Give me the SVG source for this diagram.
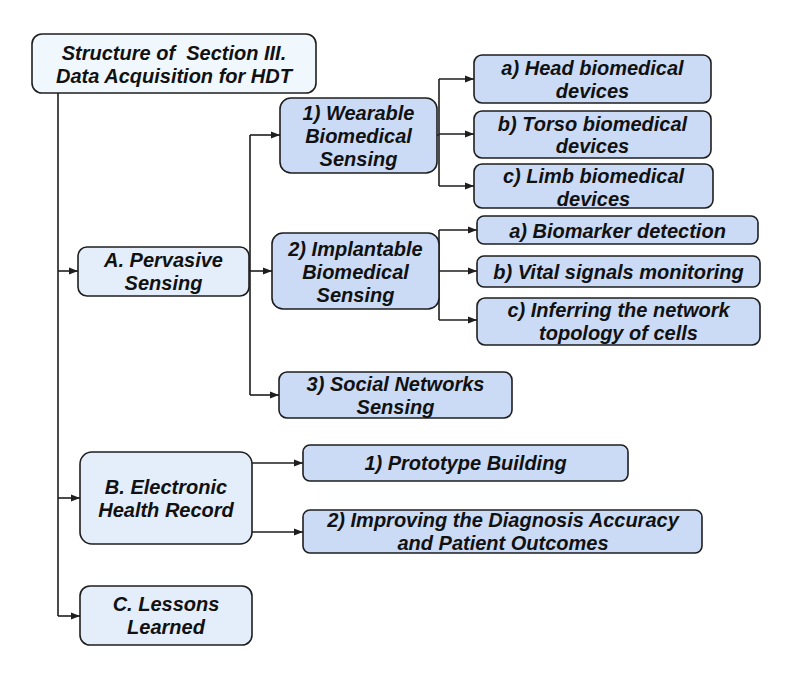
<svg xmlns="http://www.w3.org/2000/svg" width="800" height="673" viewBox="0 0 800 673">
<style>
  .box { stroke: #1e1e1e; stroke-width: 1.6; }
  .root { fill: #f0f8fd; }
  .l2 { fill: #e4eefb; }
  .l3 { fill: #cbdbf5; }
  text { font-family: "Liberation Sans", Arial, sans-serif; font-weight: bold; font-style: italic; font-size: 20px; fill: #111; text-anchor: middle; }
  .conn { fill: none; stroke: #1e1e1e; stroke-width: 1.6; }
</style>
<defs>
  <marker id="arr" markerUnits="userSpaceOnUse" markerWidth="10" markerHeight="8" refX="9" refY="4" orient="auto">
    <path d="M0,0.5 L9,4 L0,7.5 Z" fill="#1e1e1e"/>
  </marker>
</defs>
<rect width="800" height="673" fill="#ffffff"/>

<g id="connectors">
  <path class="conn" d="M58,93 V616"/>
  <path class="conn" d="M58,271 H78" marker-end="url(#arr)"/>
  <path class="conn" d="M58,498 H80" marker-end="url(#arr)"/>
  <path class="conn" d="M58,616 H80" marker-end="url(#arr)"/>
  <path class="conn" d="M250,135 V395"/>
  <path class="conn" d="M249,271 H272" marker-end="url(#arr)"/>
  <path class="conn" d="M250,135 H280" marker-end="url(#arr)"/>
  <path class="conn" d="M250,395 H279" marker-end="url(#arr)"/>
  <path class="conn" d="M439,79 V186"/>
  <path class="conn" d="M437,135 H439"/>
  <path class="conn" d="M439,79 H474" marker-end="url(#arr)"/>
  <path class="conn" d="M439,134 H474" marker-end="url(#arr)"/>
  <path class="conn" d="M439,186 H474" marker-end="url(#arr)"/>
  <path class="conn" d="M439,230 V320"/>
  <path class="conn" d="M439,230 H477" marker-end="url(#arr)"/>
  <path class="conn" d="M439,271 H477" marker-end="url(#arr)"/>
  <path class="conn" d="M439,320 H477" marker-end="url(#arr)"/>
  <path class="conn" d="M252,463 H303" marker-end="url(#arr)"/>
  <path class="conn" d="M252,532 H303" marker-end="url(#arr)"/>
</g>

<g id="root">
  <rect class="box root" x="32" y="34" width="284" height="59" rx="10"/>
  <text x="174" y="59.5" xml:space="preserve">Structure of  Section III.</text>
  <text x="174" y="82.5">Data Acquisition for HDT</text>
</g>

<g id="A">
  <rect class="box l2" x="78" y="247" width="171" height="49" rx="9"/>
  <text x="163.5" y="267">A. Pervasive</text>
  <text x="163.5" y="290">Sensing</text>
</g>

<g id="A1">
  <rect class="box l3" x="280" y="98" width="157" height="75" rx="11"/>
  <text x="358.5" y="119.5">1) Wearable</text>
  <text x="358.5" y="142.5">Biomedical</text>
  <text x="358.5" y="165.5">Sensing</text>
</g>

<g id="A2">
  <rect class="box l3" x="272" y="233" width="167" height="76" rx="11"/>
  <text x="355.5" y="255.5">2) Implantable</text>
  <text x="355.5" y="278.5">Biomedical</text>
  <text x="355.5" y="301.5">Sensing</text>
</g>

<g id="A3">
  <rect class="box l3" x="279" y="372" width="233" height="46" rx="8"/>
  <text x="395.5" y="390.5">3) Social Networks</text>
  <text x="395.5" y="413.5">Sensing</text>
</g>

<g id="A1a">
  <rect class="box l3" x="474" y="55" width="237" height="48" rx="8"/>
  <text x="592.5" y="75">a) Head biomedical</text>
  <text x="592.5" y="97.5">devices</text>
</g>

<g id="A1b">
  <rect class="box l3" x="474" y="111" width="237" height="47" rx="8"/>
  <text x="592.5" y="130.5">b) Torso biomedical</text>
  <text x="592.5" y="153">devices</text>
</g>

<g id="A1c">
  <rect class="box l3" x="474" y="164" width="239" height="44" rx="8"/>
  <text x="593.5" y="183">c) Limb biomedical</text>
  <text x="593.5" y="205.5">devices</text>
</g>

<g id="A2a">
  <rect class="box l3" x="477" y="216" width="281" height="28" rx="7"/>
  <text x="617.5" y="237.5">a) Biomarker detection</text>
</g>

<g id="A2b">
  <rect class="box l3" x="477" y="256" width="283" height="31" rx="7"/>
  <text x="618.5" y="278.5">b) Vital signals monitoring</text>
</g>

<g id="A2c">
  <rect class="box l3" x="477" y="298" width="283" height="47" rx="8"/>
  <text x="618.5" y="317">c) Inferring the network</text>
  <text x="618.5" y="340">topology of cells</text>
</g>

<g id="B">
  <rect class="box l2" x="80" y="452" width="172" height="92" rx="12"/>
  <text x="166" y="493.5">B. Electronic</text>
  <text x="166" y="516.5">Health Record</text>
</g>

<g id="B1">
  <rect class="box l3" x="303" y="445" width="325" height="36" rx="7"/>
  <text x="465.5" y="470">1) Prototype Building</text>
</g>

<g id="B2">
  <rect class="box l3" x="303" y="510" width="399" height="43" rx="7"/>
  <text x="503" y="527">2) Improving the Diagnosis Accuracy</text>
  <text x="503" y="550">and Patient Outcomes</text>
</g>

<g id="C">
  <rect class="box l2" x="80" y="586" width="172" height="59" rx="10"/>
  <text x="166" y="611">C. Lessons</text>
  <text x="166" y="634">Learned</text>
</g>
</svg>
